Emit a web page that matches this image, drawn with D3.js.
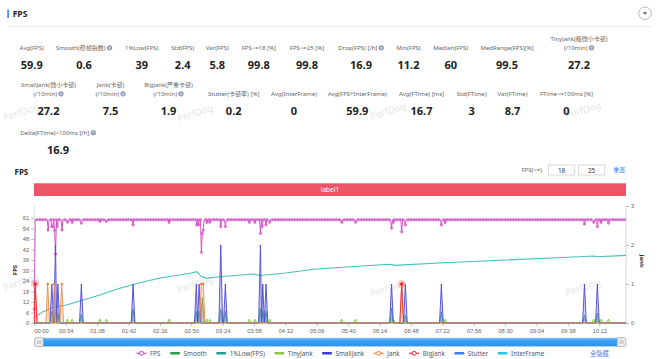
<!DOCTYPE html>
<html><head><meta charset="utf-8">
<script src="https://cdn.jsdelivr.net/npm/d3@7/dist/d3.min.js"></script>
<style>
html,body{margin:0;padding:0;background:#fff;}
svg{display:block;font-family:"Noto Sans","Noto Sans CJK SC",sans-serif;}
</style></head><body>
<svg id="c" width="660" height="359"></svg>
<script>
// ---------------- DATA ----------------
const row1Names = [["Avg(FPS)"],["Smooth(稳帧指数)"],["1%Low(FPS)"],["Std(FPS)"],["Var(FPS)"],["FPS>=18 [%]"],["FPS>=25 [%]"],["Drop(FPS) [/h]"],["Min(FPS)"],["Median(FPS)"],["MedRange(FPS)[%]"],["TinyJank(极微小卡顿)","(/10min)"]];
const row1Values = ["59.9","0.6","39","2.4","5.8","99.8","99.8","16.9","11.2","60","99.5","27.2"];
const row1Help = [0,1,0,0,0,0,0,1,0,0,0,1];
const row2Names = [["SmallJank(微小卡顿)","(/10min)"],["Jank(卡顿)","(/10min)"],["BigJank(严重卡顿)","(/10min)"],["Stutter(卡顿率) [%]"],["Avg(InterFrame)"],["Avg(FPS+InterFrame)"],["Avg(FTime) [ms]"],["Std(FTime)"],["Var(FTime)"],["FTime>=100ms [%]"]];
const row2Values = ["27.2","7.5","1.9","0.2","0","59.9","16.7","3","8.7","0"];
const row2Help = [1,1,1,0,0,0,0,0,0,0];
const row3Names = [["Delta(FTime)>100ms [/h]"]];
const row3Values = ["16.9"];
const row3Help = [1];

const timeTickValues = [0,34,68,102,136,170,204,238,272,306,340,374,408,442,476,510,544,578,612];
const timeTickLabels = ["00:00","00:34","01:08","01:42","02:16","02:50","03:24","03:58","04:32","05:06","05:40","06:14","06:48","07:22","07:56","08:30","09:04","09:38","10:12"];
const fpsTickValues = [0,6.1,12.2,18.3,24.4,30.5,36.6,42.7,48.8,54.9,61];
const fpsTickLabels = ["0","6","12","18","24","30","36","42","48","54","61"];
const jankTickValues = [0,1,2,3];
const timeMax = 641;

// FPS sampled every second (index = seconds)
const FPS_STEP = 1;
const fpsValues = [
/*0*/   8,60,60,60,60,60,60,60,60,60,60,60,60,60,60,54,60,60,60,56,
/*20*/  56,60,54,40,60,56,60,60,60,60,54,60,60,60,60,60,58.5,60,60,60,
/*40*/  60,58.5,60,60,60,60,60,60,60,60,60,58,60,60,60,60,60,60,60,60,
/*60*/  60,60,60,60,60,60,60,60,60,60,60,59,60,60,60,60,60,60,59,60,
/*80*/  60,60,60,60,60,60,60,60,60,60,60,60,60,60,60,60,60,60,60,60,
/*100*/ 60,60,60,60,60,60,60,57,60,60,60,60,60,60,60,60,60,60,60,60,
/*120*/ 60,60,60,60,60,60,60,60,60,60,60,60,60,60,60,60,60,60,60,60,
/*140*/ 60,60,60,60,60,60,58.5,60,60,60,60,60,60,60,60,60,60,60,60,60,
/*160*/ 60,60,60,60,60,60,60,60,60,60,60,60,60,60,60,60,57,60,57,60,
/*180*/ 60,41,52,54,60,60,60,58.5,60,60,58.5,60,60,60,60,60,60,60,60,60,
/*200*/ 60,60,56,60,60,60,60,56,60,60,60,60,60,60,60,60,60,60,60,60,
/*220*/ 60,60,60,60,60,60,60,60,60,60,60,60,60,58.5,60,60,60,60,60,58.5,
/*240*/ 60,60,60,60,60,52,60,56,60,60,60,57,60,60,60,58.5,60,60,60,60,
/*260*/ 60,60,60,60,60,60,60,60,60,60,60,60,60,60,60,60,60,60,60,60,
/*280*/ 60,60,60,60,60,60,60,60,60,60,60,60,60,60,60,60,60,60,60,60,
/*300*/ 60,60,60,60,60,60,60,60,60,60,60,60,60,60,60,60,60,60,60,60,
/*320*/ 60,60,60,60,60,60,60,60,60,60,60,60,60,58.5,60,60,60,60,60,60,
/*340*/ 60,60,60,60,60,60,60,60,58.5,60,60,60,60,60,60,60,60,60,60,60,
/*360*/ 60,60,60,60,60,60,60,60,60,60,60,60,60,60,60,60,60,60,60,60,
/*380*/ 60,60,60,60,60,60,60,55,60,58.5,60,60,60,60,60,60,60,60,53,60,
/*400*/ 60,60,57,60,60,60,60,60,60,60,60,60,60,60,60,60,60,60,60,60,
/*420*/ 60,60,60,60,60,60,60,60,60,60,60,60,60,60,60,60,60,60,60,60,
/*440*/ 60,57,60,60,60,58.5,60,60,60,60,60,60,60,60,60,60,60,60,60,60,
/*460*/ 60,60,60,60,60,60,60,60,60,60,60,60,60,60,60,60,60,60,60,60,
/*480*/ 60,60,60,60,60,60,60,60,60,60,60,60,60,60,60,60,60,60,60,60,
/*500*/ 60,60,60,60,60,60,60,60,60,60,60,60,60,60,60,60,60,60,60,60,
/*520*/ 60,60,60,60,60,60,60,60,60,60,60,60,60,60,60,60,60,60,60,60,
/*540*/ 60,60,60,60,60,60,60,60,60,60,60,60,60,60,60,60,60,60,60,60,
/*560*/ 60,60,60,60,60,60,60,60,60,60,60,60,60,60,60,60,60,60,60,60,
/*580*/ 60,60,60,60,60,60,60,60,60,60,60,60,60,60,60,60,57.5,60,60,60,
/*600*/ 60,60,60,60,60,60,58.5,60,60,60,56,60,60,60,58.5,60,60,60,60,60,
/*620*/ 60,60,58,60,60,60,60,60,60,60,60,60,60,60,60,60,60,60,60,60,
/*640*/ 60,60
];

// 1%Low(FPS) running value
const lowTimes = [0,9.5,20,35,53,71,89,111,135,169,176,181,186,202,237,245,270,303,342,385,391,443,511,578,606,610,641];
const lowValues = [3.3,6.6,9.1,10.5,13.4,16.3,19.6,23,26,28.9,29.8,27,26.1,26.9,28.5,27.6,28.9,31.2,32.7,34.1,33.5,35,36.6,38.2,38.9,38.5,39.3];

// Jank-family events (right axis)
const JANK_STEP = 2;
const smallJankTimes = [19,23,25.5,51,107,175.5,178.5,202,207,245,247.5,251,387,402,441,596,610];
const smallJankValues = [1,2,1,1,1,1,1,2,1,2,1,1,1,1,1,1,1];
const smoothTimes = [19,23,25.5,51,107,175.5,178.5,182,202,207,245,247.5,251,387,402,441,596,610];
const smoothValues = [0.3,0.33,0.25,0.22,0.35,0.3,0.3,0.65,0.35,0.3,0.38,0.3,0.3,0.38,0.2,0.29,0.2,0.25];
const tinyJankTimes = [36,41,71,78,146,187,190,233,239,252,255,333,348,389,445,606,614,622];
const tinyJankValues = [0.1,0.1,0.1,0.1,0.1,0.1,0.1,0.1,0.1,0.1,0.1,0.1,0.1,0.1,0.1,0.1,0.1,0.1];
const jankTimes = [1,14.5,21.7,29.7,181,183,398];
const jankValues = [1,1,1,1,1,1,1];
const bigJankTimes = [1,398];
const bigJankValues = [1,1];

const legendNames = ["FPS","Smooth","1%Low(FPS)","TinyJank","SmallJank","Jank","BigJank","Stutter","InterFrame"];
const legendColors = ["#cc44c0","#2e9e4e","#1aa394","#8dc63f","#3b3bd4","#f5813b","#e8283a","#3d7ef5","#2cc5e0"];
const legendMarker = [1,0,0,0,0,1,1,0,0];

// ---------------- DRAW ----------------
const svg = d3.select("#c");
svg.append("rect").attr("width",660).attr("height",359).attr("fill","#fff");

// watermarks
const wm = [[195,113],[388,111],[583,110],[21,112],[195,284],[388,288],[583,287],[21,282]];
wm.forEach(([cx,cy])=>{
  svg.append("text").attr("x",cx).attr("y",cy).attr("text-anchor","middle")
    .attr("dominant-baseline","central")
    .attr("transform",`rotate(-17,${cx},${cy})`)
    .attr("font-size",9.5).attr("fill","#e6e6e6").text("PerfDog");
});

// header
svg.append("rect").attr("x",7.3).attr("y",9.5).attr("width",1.6).attr("height",8.5).attr("fill","#3d7ef0");
svg.append("text").attr("x",12.7).attr("y",17.3).attr("font-size",8.5).attr("font-weight","bold").attr("fill","#222").text("FPS");
svg.append("line").attr("x1",8).attr("x2",652).attr("y1",26.5).attr("y2",26.5).attr("stroke","#ececec");
svg.append("circle").attr("cx",645).attr("cy",13.3).attr("r",6.3).attr("fill","#fff").attr("stroke","#a8a8a8").attr("stroke-width",0.8);
svg.append("path").attr("d","M642.8,12.2 L647.2,12.2 L645,14.8 Z").attr("fill","#555");

// stats
function helpIcon(g, cx, cy){
  g.append("circle").attr("cx",cx).attr("cy",cy).attr("r",2.6).attr("fill","#8e9cb3");
  g.append("text").attr("x",cx).attr("y",cy+0.2).attr("text-anchor","middle").attr("dominant-baseline","central")
    .attr("font-size",4).attr("font-weight","bold").attr("fill","#fff").text("?");
}
function statRow(names, values, help, cols, labelY, valueY){
  names.forEach((lines, i)=>{
    const cx = cols[i];
    const g = svg.append("g");
    lines.forEach((ln, j)=>{
      const y = labelY - (lines.length-1-j)*8.6;
      const isLast = j === lines.length-1;
      const t = g.append("text").attr("y",y).attr("dominant-baseline","central")
        .attr("font-size",6).attr("fill","#666").text(ln);
      const w = t.node().getComputedTextLength();
      const extra = (isLast && help[i]) ? 6.5 : 0;
      const x0 = cx - (w+extra)/2;
      t.attr("x",x0);
      if (extra) helpIcon(g, x0 + w + 4, y);
    });
    svg.append("text").attr("x",cx).attr("y",valueY).attr("text-anchor","middle").attr("dominant-baseline","central")
      .attr("font-size",11).attr("font-weight","bold").attr("fill","#222").text(values[i]);
  });
}
statRow(row1Names,row1Values,row1Help,[31.7,84,141.7,182.7,217.3,258.8,307,361,408.5,450.7,507,579],47.8,64.3);
statRow(row2Names,row2Values,row2Help,[48.5,110.5,168.5,233.7,294,357.3,421.5,471.7,512.5,566.5],93.8,110.3);
statRow(row3Names,row3Values,row3Help,[58],132.7,149.5);

// chart header
svg.append("text").attr("x",14.5).attr("y",175).attr("font-size",8).attr("font-weight","bold").attr("fill","#222").text("FPS");
svg.append("text").attr("x",521.5).attr("y",170.2).attr("dominant-baseline","central").attr("font-size",6).attr("fill","#666").text("FPS(>=)");
[[548.3,"18"],[578.3,"25"]].forEach(([bx,txt])=>{
  svg.append("rect").attr("x",bx).attr("y",165).attr("width",26.5).attr("height",10).attr("fill","#fff").attr("stroke","#cfcfcf").attr("stroke-width",0.8);
  svg.append("text").attr("x",bx+13.3).attr("y",170.2).attr("text-anchor","middle").attr("dominant-baseline","central").attr("font-size",6.5).attr("fill","#333").text(txt);
});
svg.append("text").attr("x",613.3).attr("y",170.2).attr("dominant-baseline","central").attr("font-size",6).attr("fill","#3a7ce8").text("重置");

svg.append("rect").attr("x",34).attr("y",183.3).attr("width",592).attr("height",12.7).attr("fill","#eb5565");
svg.append("text").attr("x",330).attr("y",189.8).attr("text-anchor","middle").attr("dominant-baseline","central").attr("font-size",6.5).attr("fill","#fff").text("label1");

// scales
const x = d3.scaleLinear().domain([0,timeMax]).range([34.3,626]);
const yL = d3.scaleLinear().domain([0,61]).range([323,218]);
const yR = d3.scaleLinear().domain([0,3]).range([323,206]);

// axes
const axL = svg.append("g").attr("transform","translate(34.3,0)")
  .call(d3.axisLeft(yL).tickValues(fpsTickValues).tickFormat((d,i)=>fpsTickLabels[i]).tickSize(3).tickPadding(2));
const axR = svg.append("g").attr("transform","translate(626,0)")
  .call(d3.axisRight(yR).tickValues(jankTickValues).tickFormat(d3.format("d")).tickSize(3).tickPadding(2));
const axX = svg.append("g").attr("transform","translate(0,323)")
  .call(d3.axisBottom(x).tickValues(timeTickValues).tickFormat((d,i)=>timeTickLabels[i]).tickSize(3).tickPadding(2.5));
[axL,axR,axX].forEach(a=>{
  a.select(".domain").remove();
  a.selectAll(".tick line").attr("stroke","#aaa").attr("stroke-width",0.8);
  a.selectAll(".tick text").attr("fill","#666").attr("font-size",5.8).attr("font-family",null);
});
axX.selectAll(".tick text").filter((d,i)=>i===0).attr("text-anchor","start").attr("dx",-0.5);
svg.append("line").attr("x1",34.3).attr("x2",34.3).attr("y1",yR(3)).attr("y2",323).attr("stroke","#d6d6d6").attr("stroke-width",0.8);
svg.append("line").attr("x1",626).attr("x2",626).attr("y1",yR(3)).attr("y2",323).attr("stroke","#c8c8c8").attr("stroke-width",0.8);
svg.append("line").attr("x1",34.3).attr("x2",626).attr("y1",323).attr("y2",323).attr("stroke","#bbb").attr("stroke-width",0.8);

svg.append("text").attr("transform","translate(15,270) rotate(-90)").attr("text-anchor","middle").attr("dominant-baseline","central")
  .attr("font-size",6).attr("font-weight","bold").attr("fill","#333").text("FPS");
svg.append("text").attr("transform","translate(641.5,261) rotate(90)").attr("text-anchor","middle").attr("dominant-baseline","central")
  .attr("font-size",6).attr("font-weight","bold").attr("fill","#333").text("Jank");

// plot
const plot = svg.append("g");
const fpsPts = fpsValues.map((v,i)=>[i*FPS_STEP, v]);
plot.append("path").datum(fpsPts).attr("fill","none").attr("stroke","#cc44c0").attr("stroke-width",0.9)
  .attr("d", d3.line().x(d=>x(d[0])).y(d=>yL(d[1])));
// symbols shown at every 3rd sample and at every dip
const fpsSym = fpsPts.filter((d,i)=> i%3===0 || d[1] < 59.5);
plot.selectAll(".fpsm").data(fpsSym).join("circle").attr("class","fpsm")
  .attr("cx",d=>x(d[0])).attr("cy",d=>yL(d[1])).attr("r",1.15)
  .attr("fill","#e283da").attr("stroke","#c83cbc").attr("stroke-width",0.6);

function buildSpikes(ts, vs, step, t0, t1){
  const pts = [[t0,0]];
  ts.forEach((t,i)=>{
    if (i===0){ if (t-step>t0) pts.push([t-step,0]); }
    else {
      const p = ts[i-1], gap = t-p;
      if (gap > 2*step) pts.push([p+step,0],[t-step,0]);
      else if (gap > step) pts.push([(p+t)/2,0]);
    }
    pts.push([t,vs[i]]);
  });
  const last = ts[ts.length-1];
  pts.push([Math.min(last+step,t1),0],[t1,0]);
  return pts;
}
const lineR = d3.line().x(d=>x(d[0])).y(d=>yR(d[1]));
const areaR = d3.area().x(d=>x(d[0])).y0(yR(0)).y1(d=>yR(d[1]));
function drawSpikes(ts, vs, stroke, fill, fillOp){
  const pts = buildSpikes(ts, vs, JANK_STEP, 0, timeMax);
  plot.append("path").datum(pts).attr("fill",fill).attr("fill-opacity",fillOp).attr("d",areaR);
  plot.append("path").datum(pts).attr("fill","none").attr("stroke",stroke).attr("stroke-width",0.9).attr("d",lineR);
}
drawSpikes(smoothTimes, smoothValues, "#2e9e6a", "#2e9e6a", 0.35);
// 1%Low line
plot.append("path").datum(lowTimes.map((t,i)=>[t,lowValues[i]])).attr("fill","none").attr("stroke","#45c2b6").attr("stroke-width",1.1)
  .attr("d", d3.line().x(d=>x(d[0])).y(d=>yL(d[1])));
drawSpikes(tinyJankTimes, tinyJankValues, "#8dc63f", "#8dc63f", 0.4);
drawSpikes(smallJankTimes, smallJankValues, "#4a4ad8", "#7c7ce6", 0.35);
drawSpikes(jankTimes, jankValues, "#f08a4b", "#f5a46c", 0.3);
plot.selectAll(".jm").data(jankTimes.map((t,i)=>[t,jankValues[i]])).join("circle").attr("class","jm")
  .attr("cx",d=>x(d[0])).attr("cy",d=>yR(d[1])).attr("r",1.3).attr("fill","#f5813b");
// BigJank spikes (no baseline)
bigJankTimes.forEach((t,i)=>{
  const pts = [[Math.max(0,t-JANK_STEP),0],[t,bigJankValues[i]],[t+JANK_STEP,0]];
  plot.append("path").datum(pts).attr("fill","none").attr("stroke","#e8283a").attr("stroke-width",0.9).attr("d",lineR);
  plot.append("circle").attr("cx",x(t)).attr("cy",yR(bigJankValues[i])).attr("r",4).attr("fill","#f26a6a").attr("fill-opacity",0.35);
  plot.append("circle").attr("cx",x(t)).attr("cy",yR(bigJankValues[i])).attr("r",1.8).attr("fill","#e8283a");
});

// slider
const defs = svg.append("defs");
const gr = defs.append("linearGradient").attr("id","sl").attr("x1",0).attr("x2",0).attr("y1",0).attr("y2",1);
gr.append("stop").attr("offset","0").attr("stop-color","#7cc0f8");
gr.append("stop").attr("offset","0.35").attr("stop-color","#3a9ff2");
gr.append("stop").attr("offset","1").attr("stop-color","#2b93ec");
svg.append("rect").attr("x",38).attr("y",337.8).attr("width",584).attr("height",8.6).attr("fill","url(#sl)");
[34.6,617.2].forEach(hx=>{
  svg.append("rect").attr("x",hx).attr("y",337.6).attr("width",8.6).attr("height",9).attr("rx",1.5)
    .attr("fill","#ececec").attr("stroke","#a9a9a9").attr("stroke-width",0.7);
  [2.8,4.3,5.8].forEach(dx=>svg.append("line").attr("x1",hx+dx).attr("x2",hx+dx).attr("y1",340.3).attr("y2",344)
    .attr("stroke","#999").attr("stroke-width",0.5));
});

// legend
let lx = 136.5;
const ly = 353.3;
legendNames.forEach((n,i)=>{
  const c = legendColors[i];
  if (legendMarker[i]){
    svg.append("line").attr("x1",lx).attr("x2",lx+10).attr("y1",ly).attr("y2",ly).attr("stroke",c).attr("stroke-width",1.2);
    svg.append("circle").attr("cx",lx+5).attr("cy",ly).attr("r",2).attr("fill","#fff").attr("stroke",c).attr("stroke-width",1);
  } else {
    svg.append("rect").attr("x",lx).attr("y",ly-1.3).attr("width",10).attr("height",2.6).attr("rx",1).attr("fill",c);
  }
  const t = svg.append("text").attr("x",lx+13.5).attr("y",ly).attr("dominant-baseline","central")
    .attr("font-size",6.3).attr("fill","#555").text(n);
  lx = lx + 13.5 + t.node().getComputedTextLength() + 9.5;
});
svg.append("text").attr("x",590).attr("y",ly).attr("dominant-baseline","central").attr("font-size",6.3).attr("fill","#4a80e8").text("全隐藏");
</script>
</body></html>
